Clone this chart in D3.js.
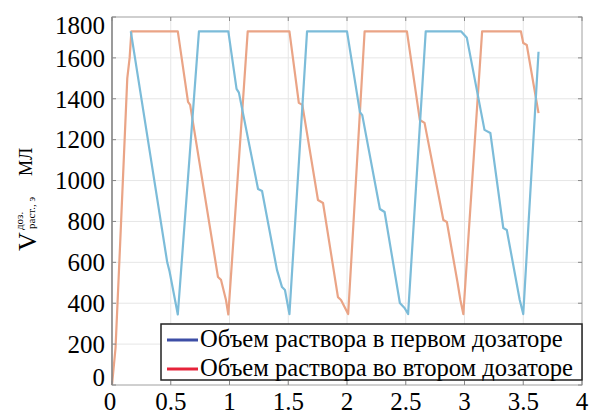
<!DOCTYPE html>
<html>
<head>
<meta charset="utf-8">
<script src="https://cdn.jsdelivr.net/npm/d3@7"></script>
<style>
  body { margin: 0; background: #fff; }
  svg { display: block; }
  svg text { font-family: "Liberation Serif", "DejaVu Serif", "Times New Roman", serif; }
</style>
</head>
<body>
<div id="chart"></div>
<script>
// time axis (x) and volume (y) ticks
var xTicks = [0, 0.5, 1, 1.5, 2, 2.5, 3, 3.5, 4];
var yTicks = [0, 200, 400, 600, 800, 1000, 1200, 1400, 1600, 1800];

// first dozer (blue): time, volume
var firstT = [0.16, 0.47, 0.49, 0.56,
	0.74, 0.99, 1.06, 1.08, 1.243, 1.277, 1.404, 1.447, 1.472, 1.51,
	1.66, 2.0, 2.11, 2.13, 2.28, 2.32, 2.45, 2.49, 2.52,
	2.67, 2.97, 3.02, 3.17, 3.22, 3.33, 3.36, 3.47, 3.50,
	3.63];
var firstV = [1730, 600, 555, 345,
	1730, 1730, 1448, 1430, 959, 949, 563, 479, 465, 347,
	1730, 1730, 1335, 1320, 861, 846, 401, 377, 347,
	1730, 1730, 1698, 1248, 1233, 768, 758, 416, 347,
	1630];

// second dozer (orange): time, volume
var secondT = [0, 0.03, 0.07, 0.10, 0.13, 0.15, 0.165, 0.56, 0.647, 0.665, 0.902, 0.928, 0.97, 0.99,
	1.155, 1.51, 1.59, 1.62, 1.753, 1.796, 1.923, 1.949, 2.01,
	2.15, 2.51, 2.62, 2.66, 2.82, 2.85, 2.94, 2.965, 2.99,
	3.15, 3.48, 3.50, 3.53, 3.63];
var secondV = [0, 180, 700, 1100, 1500, 1600, 1730, 1730, 1385, 1370, 528, 514, 416, 345,
	1730, 1730, 1380, 1370, 905, 890, 430, 416, 347,
	1730, 1730, 1296, 1282, 807, 797, 504, 416, 347,
	1730, 1730, 1673, 1663, 1330];

var legendLabels = ["Объем раствора в первом дозаторе", "Объем раствора во втором дозаторе"];

var W = 589, H = 417;
var margin = {left: 112, right: 7, top: 17, bottom: 32};

var svg = d3.select("#chart").append("svg")
	.attr("width", W).attr("height", H);

svg.append("rect").attr("width", W).attr("height", H).attr("fill", "#fff");

var x = d3.scaleLinear().domain([0, 4]).range([margin.left, W - margin.right]);
var y = d3.scaleLinear().domain([0, 1800]).range([H - margin.bottom, margin.top]);

// grid
svg.append("g").selectAll("line").data(xTicks.slice(1, -1)).enter().append("line")
	.attr("x1", function(d){ return x(d) }).attr("x2", function(d){ return x(d) })
	.attr("y1", y(0)).attr("y2", y(1800))
	.style("stroke", "#e6e6e6").style("stroke-width", "1px");
svg.append("g").selectAll("line").data(yTicks.slice(1, -1)).enter().append("line")
	.attr("x1", x(0)).attr("x2", x(4))
	.attr("y1", function(d){ return y(d) }).attr("y2", function(d){ return y(d) })
	.style("stroke", "#e6e6e6").style("stroke-width", "1px");

// lines
var line = d3.line().x(function(d){ return x(d[0]) }).y(function(d){ return y(d[1]) });
var firstData = d3.zip(firstT, firstV);
var secondData = d3.zip(secondT, secondV);

svg.append("path").datum(secondData).attr("d", line)
	.attr("fill", "none").style("stroke", "#eaa486").style("stroke-width", "2.2px")
	.style("stroke-linejoin", "round");
svg.append("path").datum(firstData).attr("d", line)
	.attr("fill", "none").style("stroke", "#7cbcd9").style("stroke-width", "2.2px")
	.style("stroke-linejoin", "round");

// box
svg.append("rect").attr("x", x(0)).attr("y", y(1800))
	.attr("width", x(4) - x(0)).attr("height", y(0) - y(1800))
	.attr("fill", "none").style("stroke", "#a0a0a0").style("stroke-width", "1px");
svg.append("line").attr("x1", x(0)).attr("x2", x(0)).attr("y1", y(0)).attr("y2", y(1800))
	.style("stroke", "#777").style("stroke-width", "1.2px");

// inner tick marks
svg.append("g").selectAll("line").data(xTicks).enter().append("line")
	.attr("x1", function(d){ return x(d) }).attr("x2", function(d){ return x(d) })
	.attr("y1", y(1800)).attr("y2", y(1800) + 4)
	.style("stroke", "#888");
svg.append("g").selectAll("line").data(xTicks).enter().append("line")
	.attr("x1", function(d){ return x(d) }).attr("x2", function(d){ return x(d) })
	.attr("y1", y(0)).attr("y2", y(0) - 4)
	.style("stroke", "#888");
svg.append("g").selectAll("line").data(yTicks).enter().append("line")
	.attr("x1", x(4)).attr("x2", x(4) - 4)
	.attr("y1", function(d){ return y(d) }).attr("y2", function(d){ return y(d) })
	.style("stroke", "#888");
svg.append("g").selectAll("line").data(yTicks).enter().append("line")
	.attr("x1", x(0)).attr("x2", x(0) + 4)
	.attr("y1", function(d){ return y(d) }).attr("y2", function(d){ return y(d) })
	.style("stroke", "#888");

// tick labels
svg.append("g").selectAll("text").data(yTicks).enter().append("text")
	.attr("x", x(0) - 7)
	.attr("y", function(d){ return Math.max(25, Math.min(377, y(d))) })
	.attr("dy", "0.35em")
	.attr("text-anchor", "end")
	.style("font-size", "25px").attr("fill", "#000")
	.text(function(d){ return d });
svg.append("g").selectAll("text").data(xTicks).enter().append("text")
	.attr("x", function(d){ return x(d) - (d === 0 ? 2 : 0) })
	.attr("y", 410)
	.attr("text-anchor", "middle")
	.style("font-size", "25px").attr("fill", "#000")
	.text(function(d){ return d });

// y axis label
var yl = svg.append("g").attr("transform", "translate(36,251) rotate(-90)");
yl.append("text").attr("x", 0).attr("y", 0).style("font-size", "26px").attr("fill", "#000").text("V");
yl.append("text").attr("x", 21).attr("y", -13).style("font-size", "11px").attr("fill", "#000").text("доз.");
yl.append("text").attr("x", 22).attr("y", -1).style("font-size", "11px").attr("fill", "#000").text("раст., э");
yl.append("text").attr("x", 75).attr("y", -4).style("font-size", "18px").attr("fill", "#000").text("МЛ");

// legend
var lg = svg.append("g");
lg.append("rect").attr("x", 161).attr("y", 324).attr("width", 421).attr("height", 56)
	.attr("fill", "#fff").style("stroke", "#222").style("stroke-width", "1.5px");
var legendColors = ["#3d4ea6", "#e6233a"];
lg.selectAll(".lgl").data(legendLabels).enter().append("line")
	.attr("x1", 167).attr("x2", 198)
	.attr("y1", function(d, i){ return 340 + i * 29 }).attr("y2", function(d, i){ return 340 + i * 29 })
	.style("stroke", function(d, i){ return legendColors[i] }).style("stroke-width", "3px");
var lgText = lg.selectAll(".lgt").data(legendLabels).enter().append("text")
	.attr("x", 200).attr("y", function(d, i){ return 347 + i * 29 })
	.style("font-size", "22px").attr("fill", "#000")
	.text(function(d){ return d });
// fit the longer label to the box width
var longest = lgText.nodes()[1].getComputedTextLength();
var fs = 22 * 373 / longest;
lgText.style("font-size", fs + "px");
</script>
</body>
</html>
